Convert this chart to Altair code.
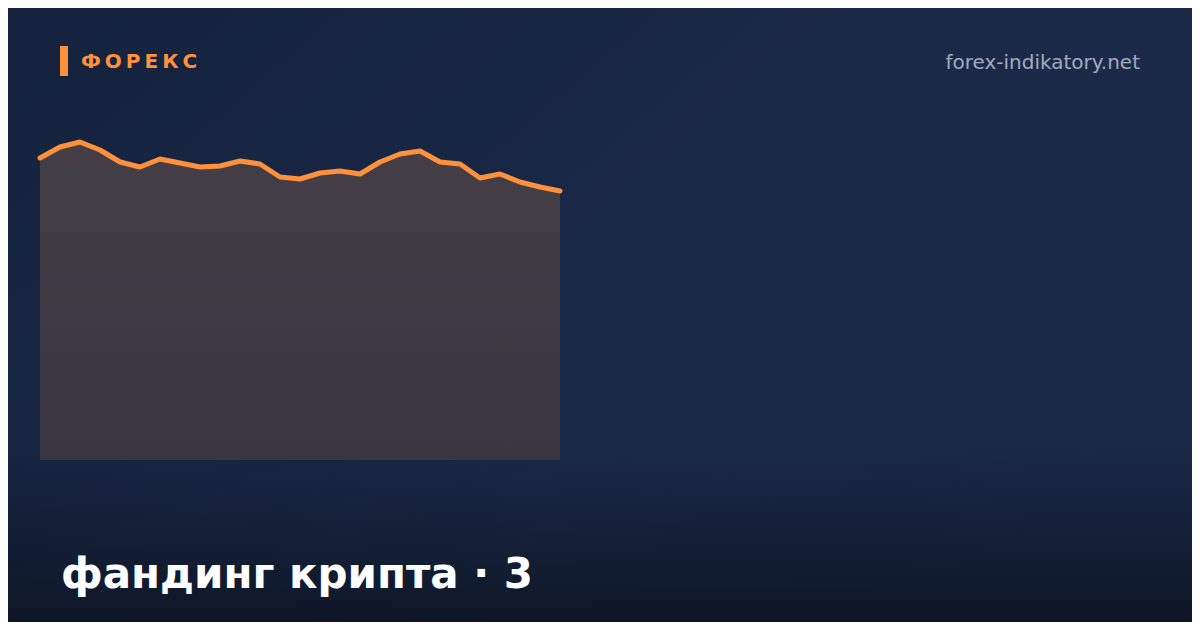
import altair as alt
import pandas as pd

# data
periods = list(range(1, 28))
funding = [302, 313, 318, 310, 298, 293, 301, 297, 293, 294, 299, 296, 283, 281,
           287, 289, 286, 298, 306, 309, 298, 296, 282, 286, 278, 273, 269]

title_text = "фандинг крипта · 3"
brand_text = "Ф\u2009О\u2009Р\u2009Е\u2009К\u2009С"
site_text = "forex-indikatory.net"

W, H = 1184, 614
OFF = 8  # page margin

df = pd.DataFrame({"period": periods, "funding": funding})
one = pd.DataFrame({"k": [0]})

xs = alt.Scale(domain=[-0.6, 58.6], nice=False, zero=False)
ys = alt.Scale(domain=[-162, 452], nice=False, zero=False)

bg = alt.Chart(one).mark_rect(
    color=alt.Gradient(
        gradient="linear", x1=0, y1=0, x2=1, y2=0.6,
        stops=[alt.GradientStop(color="#14223d", offset=0),
               alt.GradientStop(color="#1b2a49", offset=0.7),
               alt.GradientStop(color="#1a2948", offset=1)]),
).encode(x=alt.value(0), x2=alt.value(W), y=alt.value(0), y2=alt.value(H))

bottom = alt.Chart(one).mark_rect(
    color=alt.Gradient(
        gradient="linear", x1=0, y1=0, x2=0, y2=1,
        stops=[alt.GradientStop(color="rgba(14,22,38,0)", offset=0),
               alt.GradientStop(color="rgba(14,22,38,0.55)", offset=0.6),
               alt.GradientStop(color="rgba(14,22,38,0.95)", offset=1)]),
).encode(x=alt.value(0), x2=alt.value(W), y=alt.value(440 - OFF), y2=alt.value(H))

area = alt.Chart(df).mark_area(
    color=alt.Gradient(
        gradient="linear", x1=0, y1=0, x2=0, y2=1,
        stops=[alt.GradientStop(color="#453e46", offset=0),
               alt.GradientStop(color="#38363f", offset=1)]),
).encode(
    x=alt.X("period:Q", scale=xs, axis=None),
    y=alt.Y("funding:Q", scale=ys, axis=None),
    y2=alt.datum(0),
)

line = alt.Chart(df).mark_line(
    color="#ff913c", strokeWidth=5, strokeCap="round", strokeJoin="round"
).encode(
    x=alt.X("period:Q", scale=xs, axis=None),
    y=alt.Y("funding:Q", scale=ys, axis=None),
)

bar = alt.Chart(one).mark_rect(color="#ff913c").encode(
    x=alt.value(60 - OFF), x2=alt.value(68 - OFF),
    y=alt.value(46 - OFF), y2=alt.value(76 - OFF))

brand = alt.Chart(one).mark_text(
    text=brand_text, font="DejaVu Sans", fontWeight="bold", fontSize=20,
    color="#ff913c", align="left", baseline="alphabetic",
).encode(x=alt.value(81 - OFF), y=alt.value(68 - OFF))

site = alt.Chart(one).mark_text(
    text=site_text, font="DejaVu Sans", fontSize=20,
    color="#a3abbb", align="right", baseline="alphabetic",
).encode(x=alt.value(1140 - OFF), y=alt.value(69 - OFF))

title = alt.Chart(one).mark_text(
    text=title_text, font="DejaVu Sans", fontWeight="bold", fontSize=42,
    color="#ffffff", align="left", baseline="alphabetic",
).encode(x=alt.value(61 - OFF), y=alt.value(588 - OFF))

chart = alt.layer(bg, bottom, area, line, bar, brand, site, title).resolve_scale(
    x="shared", y="shared"
).properties(
    width=W, height=H, padding=0, autosize=alt.AutoSizeParams(type="none"),
    background="#0f1a2c",
).configure_view(stroke=None)

chart.save("out.html", embed_options={"renderer": "svg", "actions": False})
